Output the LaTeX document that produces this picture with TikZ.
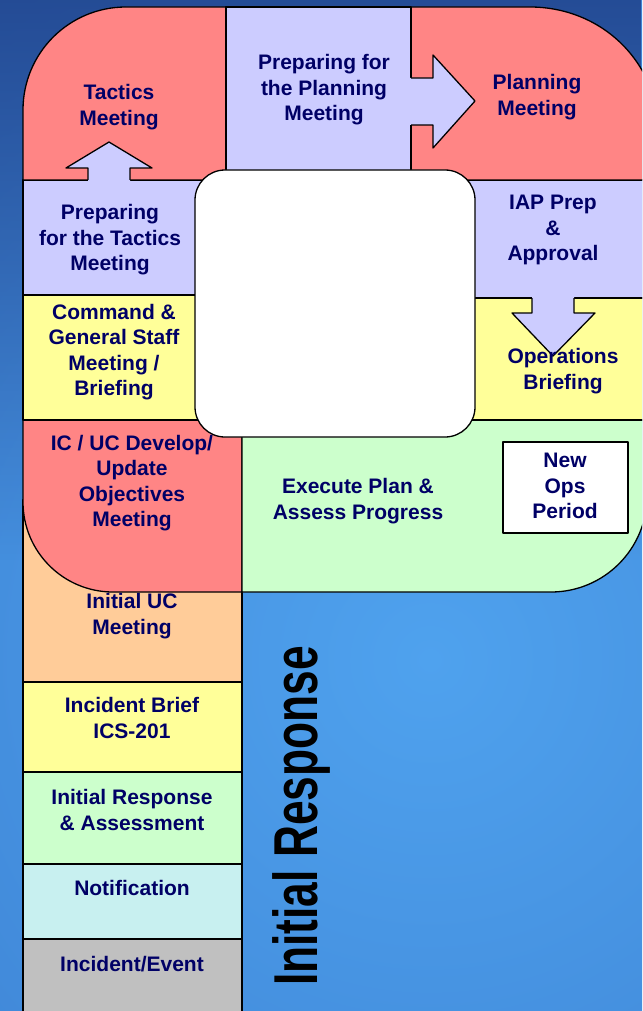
\documentclass[tikz,border=0pt]{standalone}
\usepackage{fontspec}
\setmainfont{Liberation Sans}
\usepackage{graphicx}
\usetikzlibrary{fadings}
\definecolor{cred}{HTML}{FF8585}
\definecolor{clav}{HTML}{CCCCFF}
\definecolor{cyel}{HTML}{FFFF99}
\definecolor{cgrn}{HTML}{CCFFCC}
\definecolor{cpch}{HTML}{FFCC99}
\definecolor{ccyan}{HTML}{C8F0F0}
\definecolor{cgray}{HTML}{C0C0C0}
\definecolor{navy}{HTML}{000066}
\definecolor{bgdark}{HTML}{22468F}
\definecolor{bgmid}{HTML}{3472C6}
\definecolor{bglight}{HTML}{4FA2EE}
\begin{document}
\begin{tikzpicture}[x=1pt,y=-1pt,
  cell/.style={draw=black,line width=1.3pt,line join=round},
  lbl/.style={text=navy,font=\bfseries\fontsize{21}{25.5}\selectfont,align=center,inner sep=0pt},
]
\useasboundingbox (0,0) rectangle (642,1011);
\clip (0,0) rectangle (642,1011);
\shade[inner color=bglight, outer color=bgmid] (430,660) circle (1100);
\fill[bgdark, path fading=south, fill opacity=0.9] (0,0) rectangle (642,560);
% lower stack
\draw[cell,fill=cgray] (23,939) rectangle (242,1030);
\draw[cell,fill=ccyan] (23,864) rectangle (242,939);
\draw[cell,fill=cgrn] (23,772) rectangle (242,864);
\draw[cell,fill=cyel] (23,682) rectangle (242,772);
\draw[cell,fill=cpch] (23,500) rectangle (242,682);
% IC/UC
\draw[cell,fill=cred] (23,420) -- (23,502) .. controls (23,551.7) and (63.3,592) .. (113,592) -- (242,592) -- (242,420) -- cycle;
% Execute
\draw[cell,fill=cgrn] (242,420) -- (647,420) -- (647,496) .. controls (647,549) and (604,592) .. (551,592) -- (242,592) -- cycle;
% right column
\draw[cell,fill=cyel] (450,298) rectangle (660,420);
\draw[cell,fill=clav] (450,180) rectangle (660,298);
% left column
\draw[cell,fill=cyel] (23,295) rectangle (230,420);
\draw[cell,fill=clav] (23,180) rectangle (230,295);
% top row
\draw[cell,fill=cred] (23,180) -- (23,110) .. controls (23,53) and (69,7) .. (126,7) -- (226,7) -- (226,180) -- cycle;
\draw[cell,fill=cred] (411,7) -- (530,7) .. controls (600,7) and (660,60) .. (660,140) -- (660,180) -- (411,180) -- cycle;
\draw[cell,fill=clav] (226,7) rectangle (411,180);
% centre
\draw[cell,fill=white,rounded corners=30pt] (195,170) rectangle (475,437);
% arrows
\fill[clav] (409,78) -- (433,78) -- (433,55) -- (475,101) -- (433,148) -- (433,125) -- (409,125) -- cycle;
\draw[cell] (411,78) -- (433,78) -- (433,55) -- (475,101) -- (433,148) -- (433,125) -- (411,125);
\fill[clav] (88,182) -- (88,168) -- (66,168) -- (109,142) -- (152,168) -- (130,168) -- (130,182) -- cycle;
\draw[cell] (88,180) -- (88,168) -- (66,168) -- (109,142) -- (152,168) -- (130,168) -- (130,180);
\fill[clav] (532,296) -- (532,313) -- (512,313) -- (553,356) -- (595,313) -- (574,313) -- (574,296) -- cycle;
\draw[cell] (532,298) -- (532,313) -- (512,313) -- (553,356) -- (595,313) -- (574,313) -- (574,298);
% new ops box
\draw[cell,fill=white] (503,442) rectangle (628,533);
% labels
\node[lbl] (tac) at (119,107) {Tactics\\Meeting};
\node[lbl] (ppm) at (324,90) {Preparing for\\the Planning\\Meeting};
\node[lbl] (pm) at (537,97) {Planning\\Meeting};
\node[lbl] (ptm) at (110,240) {Preparing\\for the Tactics\\Meeting};
\node[lbl] (iap) at (553,230) {IAP Prep\\\&\\Approval};
\node[lbl] (cgs) at (114,352) {Command \&\\General Staff\\Meeting /\\Briefing};
\node[lbl] (ops) at (563,371) {Operations\\Briefing};
\node[lbl] (icuc) at (132,483) {IC / UC Develop/\\Update\\Objectives\\Meeting};
\node[lbl] (exe) at (358,501) {Execute Plan \&\\Assess Progress};
\node[lbl] (nop) at (565,486) {New\\Ops\\Period};
\node[lbl] (iuc) at (132,616) {Initial UC\\Meeting};
\node[lbl] (ib) at (132,718) {Incident Brief\\ICS-201};
\node[lbl] (ira) at (132,810) {Initial Response\\\& Assessment};
\node[lbl] (not) at (132,888) {Notification};
\node[lbl] (inc) at (132,964) {Incident/Event};
\node[rotate=90,anchor=base,inner sep=0pt,text=black,font=\bfseries\fontsize{62}{62}\selectfont] (ir) at (317,816) {\scalebox{0.714}[1]{Initial Response}};
\end{tikzpicture}
\end{document}
